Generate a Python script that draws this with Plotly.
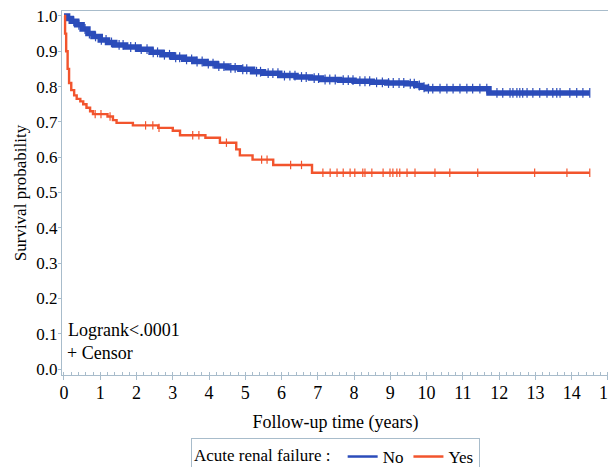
import numpy as np
import plotly.graph_objects as go

# Kaplan-Meier step points (time in years, survival probability)
no_time = [0, 0.1, 0.2, 0.35, 0.5, 0.66, 0.8, 1.0, 1.2, 1.4, 1.7, 2.05, 2.4, 2.7, 3.0, 3.3,
           3.6, 3.9, 4.2, 4.5, 4.85, 5.2, 5.5, 5.95, 6.4, 6.8, 7.1, 7.6, 8.0, 8.5, 8.9,
           9.45, 9.7, 9.85, 10.0, 11.72]
no_surv = [1.0, 0.993, 0.985, 0.975, 0.963, 0.95, 0.942, 0.932, 0.925, 0.918, 0.912, 0.906,
           0.897, 0.89, 0.883, 0.877, 0.871, 0.865, 0.858, 0.853, 0.849, 0.842, 0.838,
           0.831, 0.827, 0.824, 0.82, 0.818, 0.815, 0.812, 0.81, 0.808, 0.803, 0.798,
           0.794, 0.782]
no_end = 14.5

yes_time = [0, 0.03, 0.06, 0.1, 0.14, 0.2, 0.28, 0.35, 0.45, 0.53, 0.62, 0.72, 0.8, 1.2,
            1.35, 1.45, 1.9, 2.6, 3.0, 3.2, 3.9, 4.3, 4.75, 4.85, 5.2, 5.77, 6.84]
yes_surv = [1.0, 0.95, 0.9, 0.85, 0.81, 0.79, 0.775, 0.765, 0.758, 0.75, 0.74, 0.73,
            0.722, 0.715, 0.705, 0.697, 0.69, 0.683, 0.675, 0.662, 0.655, 0.641, 0.622,
            0.605, 0.593, 0.578, 0.556]
yes_end = 14.5

# censoring times
no_censor = [0.27, 0.41, 0.58, 0.7, 0.87, 1.03, 1.16, 1.31, 1.52, 1.63, 1.84, 1.97, 2.13,
             2.29, 2.46, 2.58, 2.77, 2.91, 3.08, 3.19, 3.38, 3.52, 3.67, 3.81, 3.98, 4.11,
             4.27, 4.41, 4.6, 4.72, 4.93, 5.04, 5.31, 5.42, 5.63, 5.76, 5.9, 6.08, 6.23,
             6.37, 6.55, 6.68, 6.9, 7.02, 7.2, 7.33, 7.48, 7.7, 7.84, 7.97, 8.16, 8.3,
             8.43, 8.62, 8.78, 8.95, 9.08, 9.24, 9.37, 9.55, 9.66, 9.8, 9.93, 10.05, 10.17,
             10.37, 10.56, 10.73, 10.92, 11.11, 11.27, 11.47, 11.66, 11.94, 12.1, 12.3,
             12.38, 12.49, 12.57, 12.65, 12.77, 12.93, 13.12, 13.32, 13.48, 13.59, 13.68,
             13.95, 14.14, 14.31, 14.5]
yes_censor = [0.86, 1.02, 1.27, 2.25, 2.45, 2.62, 3.55, 3.72, 4.48, 5.45, 5.6, 6.25,
              6.55, 7.14, 7.34, 7.53, 7.7, 7.89, 8.02, 8.24, 8.3, 8.49, 8.8, 8.99, 9.07,
              9.18, 9.26, 9.46, 9.68, 10.23, 10.64, 11.41, 12.98, 13.87, 14.5]

x_ticks = list(range(0, 16))
y_ticks = [0.0, 0.1, 0.2, 0.3, 0.4, 0.5, 0.6, 0.7, 0.8, 0.9, 1.0]

BLUE = "#2b4cba"
RED = "#f2542d"
FONT = "Liberation Serif"
TXT = "#000000"


def surv_at(times, surv, t):
    idx = np.searchsorted(np.array(times), np.array(t), side="right") - 1
    return list(np.array(surv)[idx])


fig = go.Figure()

for name, tt, ss, tend, cens, col, w, msz in [
    ("No", no_time, no_surv, no_end, no_censor, BLUE, 5.5, 7),
    ("Yes", yes_time, yes_surv, yes_end, yes_censor, RED, 2.4, 6),
]:
    fig.add_trace(go.Scatter(
        x=list(tt) + [tend], y=list(ss) + [ss[-1]], mode="lines", name=name,
        line=dict(color=col, width=w, shape="hv"), showlegend=False))
    fig.add_trace(go.Scatter(
        x=cens, y=surv_at(tt, ss, cens), mode="markers", showlegend=False,
        marker=dict(symbol="line-ns", size=msz, line=dict(color=col, width=1.2))))
    fig.add_trace(go.Scatter(
        x=[None], y=[None], mode="lines", name=name,
        line=dict(color=col, width=2.5)))

fig.add_annotation(x=0.06, y=0.11, xref="x", yref="y", text="Logrank<.0001",
                   showarrow=False, xanchor="left", yanchor="middle",
                   font=dict(family=FONT, size=18, color=TXT))
fig.add_annotation(x=0.04, y=0.045, xref="x", yref="y", text="+ Censor",
                   showarrow=False, xanchor="left", yanchor="middle",
                   font=dict(family=FONT, size=18, color=TXT))

axis_line = "#a8bccb"
# page body has an 8px default margin, so the figure is 8px smaller than the window
fig.update_layout(
    width=608, height=459,
    margin=dict(l=54, r=7, t=3, b=92, autoexpand=False),
    paper_bgcolor="white", plot_bgcolor="white",
    font=dict(family=FONT, size=17, color=TXT),
    xaxis=dict(range=[-0.055, 15.03], tickvals=x_ticks, ticks="outside", ticklen=4,
               tickcolor=axis_line, showline=True, linecolor=axis_line, linewidth=1,
               mirror=True, showgrid=False, zeroline=False, ticklabelstandoff=-3,
               ticklabeloverflow="allow", automargin=False,
               minor=dict(dtick=0.2, ticks="inside", ticklen=3, tickcolor=axis_line),
               title=dict(text="Follow-up time (years)", standoff=13,
                          font=dict(family=FONT, size=18, color=TXT)),
               tickfont=dict(family=FONT, size=18, color=TXT)),
    yaxis=dict(range=[-0.017, 1.014], tickvals=y_ticks, tickformat=".1f",
               ticks="outside", ticklen=3, tickcolor=axis_line, showline=True,
               linecolor=axis_line, linewidth=1, mirror=True, showgrid=False,
               zeroline=False, ticklabelstandoff=-3, automargin=False,
               ticklabeloverflow="allow",
               title=dict(text="Survival probability", standoff=5,
                          font=dict(family=FONT, size=17, color=TXT)),
               tickfont=dict(family=FONT, size=17, color=TXT)),
    legend=dict(orientation="h", x=0.5, xanchor="center", y=-0.173, yanchor="top",
                title=dict(text="Acute renal failure : ", side="left",
                           font=dict(family=FONT, size=17, color=TXT)),
                bordercolor=axis_line, borderwidth=1,
                font=dict(family=FONT, size=17, color=TXT), itemwidth=30),
)

fig.write_html("out.html")
